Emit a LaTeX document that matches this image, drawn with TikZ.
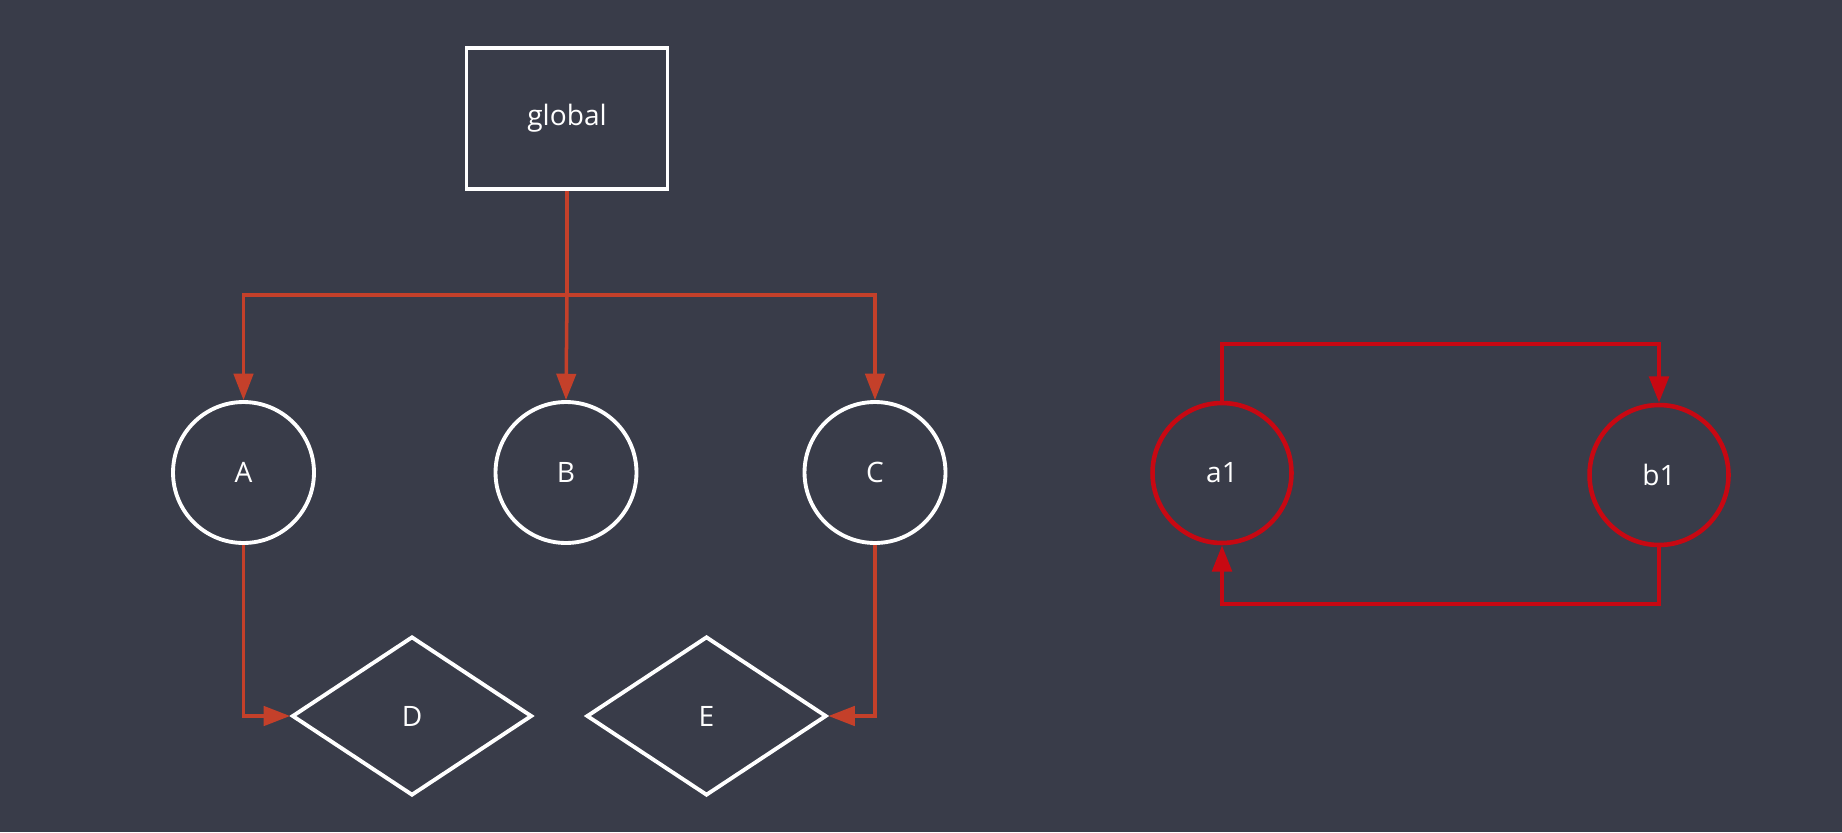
\documentclass[tikz,border=0pt]{standalone}
\usepackage{fontspec}
\setmainfont{Open Sans}
\usetikzlibrary{arrows.meta}
\usetikzlibrary{shapes.geometric}
\definecolor{bg}{RGB}{57, 60, 73}
\definecolor{rust}{RGB}{196, 64, 42}
\definecolor{crimson}{RGB}{200, 8, 18}

\begin{document}
\begin{tikzpicture}[x=0.02cm,y=-0.02cm,>={Triangle[length=15pt,width=11pt]},
    every node/.style={text=white,font=\fontsize{16}{19}\selectfont},
    box/.style={draw=white,line width=2.2pt,rectangle,minimum width=4.02cm,minimum height=2.82cm},
    round/.style={draw=white,line width=2.2pt,circle,minimum size=2.82cm,inner sep=0pt},
    gem/.style={draw=white,line width=2.2pt,diamond,minimum width=4.8cm,minimum height=3.18cm,inner sep=0pt},
    oval/.style={draw=crimson,line width=2.6pt,ellipse,minimum width=2.78cm,minimum height=2.8cm,inner sep=0pt},
    link/.style={draw=rust,line width=2pt,->},
    loop/.style={draw=crimson,line width=2.6pt,->}]
                \fill[bg] (0,0) rectangle (1842,832);
                \useasboundingbox (0,0) rectangle (1842,832);

                % left tree
                \node[box] (global) at (567, 118.5) {global};
                \node[round] (A) at (243.5, 472.5) {A};
                \node[round] (B) at (566, 472.5) {B};
                \node[round] (C) at (875, 472.5) {C};
                \node[gem] (D) at (412, 716) {D};
                \node[gem] (E) at (706.5, 716) {E};

                \coordinate (split) at (567, 295);
                \draw[link] (global.south) -- (split) -| (A.north);
                \draw[link] (split) -- (B.north);
                \draw[link] (split) -| (C.north);
                \draw[link] (A.south) |- (D.west);
                \draw[link] (C.south) |- (E.east);

                % right pair
                \node[oval] (a1) at (1222, 473) {a1};
                \node[oval] (b1) at (1659, 475) {b1};

                \coordinate (topbar) at (1440, 344);
                \coordinate (botbar) at (1440, 604);
                \draw[loop] (a1.north) |- (topbar) -| (b1.north);
                \draw[loop] (b1.south) |- (botbar) -| (a1.south);
            \end{tikzpicture}
\end{document}
